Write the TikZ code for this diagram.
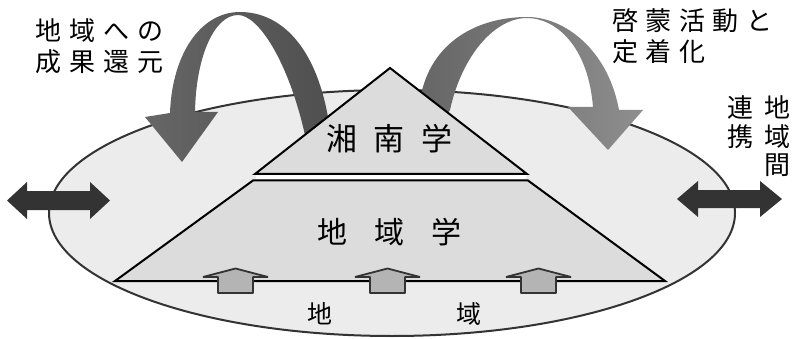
\documentclass[tikz,border=0pt]{standalone}
\usepackage{fontspec}
\setmainfont{Noto Sans CJK JP}
\usetikzlibrary{shapes.geometric}
\definecolor{ellfill}{RGB}{236,236,236}
\definecolor{pyrfill}{RGB}{220,220,220}
\definecolor{edgegray}{RGB}{51,51,51}
\definecolor{smallfill}{RGB}{180,180,180}
\definecolor{leftA}{RGB}{102,102,102}
\definecolor{leftB}{RGB}{78,78,78}
\definecolor{rightA}{RGB}{100,100,100}
\definecolor{rightB}{RGB}{142,142,142}
\newcommand{\gapA}{\hspace{8pt}}
\begin{document}
\begin{tikzpicture}[x=1pt,y=-1pt,
  lbl/.style={inner sep=0pt, anchor=base west, font=\fontsize{26}{30}\selectfont},
  vchar/.style={inner sep=0pt, anchor=base, font=\fontsize{26}{28}\selectfont},
  pyrtext/.style={inner sep=0pt, anchor=base, font=\fontsize{31}{31}\selectfont},
  groundtext/.style={inner sep=0pt, anchor=base, font=\fontsize{25}{25}\selectfont},
  pyr/.style={draw=black, line width=2pt, fill=pyrfill, line join=miter},
  smallarrow/.style={draw=edgegray, line width=1.8pt, fill=smallfill, line join=bevel},
  dblarrow/.style={fill=edgegray}]
\useasboundingbox (0,0) rectangle (797,339);
% region ellipse
\path[draw=edgegray, line width=2pt, fill=ellfill] (392,213) ellipse [x radius=343, y radius=123];
% left big curved arrow
\shade[left color=leftA, right color=leftB]
  (340,140) -- (328,117)
  .. controls (315,45) and (280,12) .. (240,12)
  .. controls (200,12) and (172,55) .. (170,113)
  -- (145,117) -- (182,162) -- (218,112) -- (195,112)
  .. controls (196,55) and (215,15) .. (238,15)
  .. controls (258,15) and (288,60) .. (305,135)
  -- (320,150) -- cycle;
% right big curved arrow
\shade[left color=rightA, right color=rightB]
  (410,110) -- (420,100)
  .. controls (430,40) and (480,17) .. (527,17)
  .. controls (565,17) and (608,50) .. (619,110)
  -- (643,110) -- (608,150) -- (568,107) -- (593,107)
  .. controls (588,45) and (555,18) .. (527,18)
  .. controls (495,18) and (462,55) .. (450,110)
  -- (440,125) -- cycle;
% pyramid
\draw[pyr] (390,68) -- (527,174) -- (255,174) -- cycle;
\fill[white] (256,175.2) rectangle (526,179.3);
\draw[pyr] (253,180.5) -- (528,180.5) -- (665,281) -- (115,281) -- cycle;
% small up arrows
\foreach \cx in {235.5,387.5,538.5}
  \draw[smallarrow] (\cx-32.5,277) -- (\cx,268.5) -- (\cx+32.5,277) -- (\cx+17.5,277)
    -- (\cx+17.5,293) -- (\cx-17.5,293) -- (\cx-17.5,277) -- cycle;
% double arrows
\fill[dblarrow] (7,200.5) -- (27,182) -- (27,191) -- (90,191) -- (90,182) -- (110,200.5)
  -- (90,219) -- (90,210) -- (27,210) -- (27,219) -- cycle;
\fill[dblarrow] (677,199) -- (698,181) -- (698,190) -- (760,190) -- (760,181) -- (782,199)
  -- (760,217) -- (760,208) -- (698,208) -- (698,217) -- cycle;
% texts
\node[pyrtext] (shonan) at (389.5,151) {湘\hspace{17pt}南\hspace{17pt}学};
\node[pyrtext, font=\fontsize{30}{30}\selectfont] (chiikigaku) at (389.5,243) {地\hspace{27pt}域\hspace{27pt}学};
\node[groundtext] (g1) at (320,323.5) {地};
\node[groundtext] (g2) at (469,323.5) {域};
\node[lbl] (ta1) at (35,40.5) {地\gapA 域\gapA へ\gapA の};
\node[lbl] (ta2) at (35,71.5) {成\gapA 果\gapA 還\gapA 元};
\node[lbl] (tb1) at (612,30.5) {啓\hspace{7.5pt}蒙\hspace{7.5pt}活\hspace{7.5pt}動\hspace{7.5pt}と};
\node[lbl] (tb2) at (612,61.5) {定\hspace{7.5pt}着\hspace{7.5pt}化};
\node[vchar] (v1) at (740,118) {連};
\node[vchar] (v2) at (740,146.5) {携};
\node[vchar] (v3) at (777,118) {地};
\node[vchar] (v4) at (777,146.5) {域};
\node[vchar] (v5) at (777,175) {間};
\end{tikzpicture}
\end{document}
